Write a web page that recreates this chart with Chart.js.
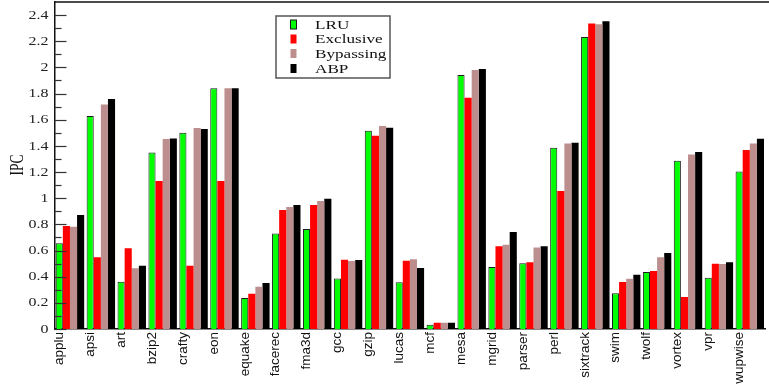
<!DOCTYPE html>
<html>
<head>
<meta charset="utf-8">
<script src="https://cdn.jsdelivr.net/npm/chart.js@4/dist/chart.umd.min.js"></script>
<style>
  html, body { margin: 0; padding: 0; background: #fff; overflow: hidden; }
  #wrap { width: 769px; height: 385px; }
</style>
</head>
<body>
<div id="wrap"><canvas id="ipc" width="769" height="385"></canvas></div>
<script>
// SPEC CPU2000 benchmarks
const benchmarks = ['applu', 'apsi', 'art', 'bzip2', 'crafty', 'eon', 'equake', 'facerec',
  'fma3d', 'gcc', 'gzip', 'lucas', 'mcf', 'mesa', 'mgrid', 'parser', 'perl', 'sixtrack',
  'swim', 'twolf', 'vortex', 'vpr', 'wupwise'];

// IPC per replacement policy
const lruIPC = [0.655, 1.628, 0.362, 1.35, 1.50, 1.84, 0.237, 0.731, 0.764, 0.387, 1.516, 0.357,
  0.033, 1.941, 0.474, 0.502, 1.386, 2.232, 0.273, 0.436, 1.287, 0.392, 1.205];
const exclusiveIPC = [0.787, 0.548, 0.617, 1.131, 0.484, 1.131, 0.27, 0.91, 0.948, 0.53, 1.478, 0.522,
  0.048, 1.768, 0.632, 0.51, 1.055, 2.336, 0.359, 0.443, 0.245, 0.499, 1.368];
const bypassingIPC = [0.782, 1.717, 0.464, 1.452, 1.536, 1.84, 0.323, 0.933, 0.978, 0.52, 1.552, 0.533,
  0.048, 1.98, 0.645, 0.624, 1.419, 2.33, 0.385, 0.548, 1.335, 0.497, 1.419];
const abpIPC = [0.871, 1.758, 0.484, 1.457, 1.529, 1.84, 0.352, 0.948, 0.996, 0.527, 1.539, 0.466,
  0.048, 1.987, 0.741, 0.632, 1.424, 2.352, 0.415, 0.581, 1.353, 0.51, 1.455];

// y axis: labelled ticks every 0.2, minor ticks every 0.1
const yMajorTicks = [0, 0.2, 0.4, 0.6, 0.8, 1, 1.2, 1.4, 1.6, 1.8, 2, 2.2, 2.4];
const yMinorTicks = [0.1, 0.3, 0.5, 0.7, 0.9, 1.1, 1.3, 1.5, 1.7, 1.9, 2.1, 2.3];
const yLabels = ['0', '0.2', '0.4', '0.6', '0.8', '1', '1.2', '1.4', '1.6', '1.8', '2', '2.2', '2.4'];

const SERIF = '"Liberation Serif", "Times New Roman", serif';
const STRETCH = 1.33;

// inward ticks, labels, axis title and frame top
const axisDecor = {
  id: 'axisDecor',
  afterDatasetsDraw(chart) {
    const { ctx, chartArea, scales } = chart;
    const y = scales.y;
    ctx.save();
    ctx.strokeStyle = '#333';
    ctx.lineWidth = 1.2;
    const tick = (v, len) => {
      const py = Math.round(y.getPixelForValue(v)) + 0.5;
      ctx.beginPath();
      ctx.moveTo(chartArea.left, py);
      ctx.lineTo(chartArea.left + len, py);
      ctx.stroke();
    };
    yMajorTicks.forEach(v => tick(v, 12));
    yMinorTicks.forEach(v => tick(v, 7));

    // frame top edge
    ctx.strokeStyle = '#111';
    ctx.lineWidth = 1.5;
    ctx.beginPath();
    ctx.moveTo(chartArea.left, chartArea.top);
    ctx.lineTo(chart.width, chartArea.top);
    ctx.stroke();

    // y tick labels
    ctx.fillStyle = '#222';
    ctx.font = '12px ' + SERIF;
    ctx.textAlign = 'right';
    ctx.textBaseline = 'middle';
    yMajorTicks.forEach((v, i) => {
      const py = y.getPixelForValue(v);
      ctx.save();
      ctx.translate(48.5, py + 0.5);
      ctx.scale(STRETCH, 1);
      ctx.fillText(yLabels[i], 0, 0);
      ctx.restore();
    });

    // y axis title
    ctx.save();
    ctx.translate(18.5, 165);
    ctx.scale(STRETCH, 1);
    ctx.rotate(-Math.PI / 2);
    ctx.font = '13.5px ' + SERIF;
    ctx.textAlign = 'center';
    ctx.textBaseline = 'middle';
    ctx.fillStyle = '#111';
    ctx.fillText('IPC', 0, 0);
    ctx.restore();
    ctx.restore();
  },
  afterDraw(chart) {
    // boxed legend inside the plot
    const { ctx } = chart;
    ctx.save();
    ctx.fillStyle = '#fff';
    ctx.fillRect(276, 16, 114, 62);
    ctx.strokeStyle = '#555';
    ctx.lineWidth = 1.5;
    ctx.strokeRect(276, 16, 114, 62);
    const rowY = [24.5, 39, 53.5, 68.5];
    chart.data.datasets.forEach((ds, i) => {
      const cy = rowY[i];
      ctx.fillStyle = ds.backgroundColor;
      ctx.fillRect(290.5, cy - 4.5, 6, 9);
      if (ds.borderWidth) {
        ctx.strokeStyle = ds.borderColor;
        ctx.lineWidth = 1;
        ctx.strokeRect(290.5, cy - 4.5, 6, 9);
      }
      ctx.save();
      ctx.translate(315, cy + 0.5);
      ctx.scale(1.27, 1);
      ctx.font = '13.5px ' + SERIF;
      ctx.fillStyle = '#111';
      ctx.textAlign = 'left';
      ctx.textBaseline = 'middle';
      ctx.fillText(ds.label, 0, 0);
      ctx.restore();
    });
    ctx.restore();
  }
};

new Chart(document.getElementById('ipc'), {
  type: 'bar',
  data: {
    labels: benchmarks,
    datasets: [
      { label: 'LRU', data: lruIPC, backgroundColor: '#00ff00', borderColor: '#1b1b1b', borderWidth: 1 },
      { label: 'Exclusive', data: exclusiveIPC, backgroundColor: '#ff0000', borderWidth: 0 },
      { label: 'Bypassing', data: bypassingIPC, backgroundColor: '#bc8e8e', borderWidth: 0 },
      { label: 'ABP', data: abpIPC, backgroundColor: '#000000', borderWidth: 0 }
    ]
  },
  options: {
    responsive: false,
    animation: false,
    devicePixelRatio: 1,
    layout: { padding: { top: 2, right: 0, bottom: 0, left: 0 } },
    datasets: { bar: { barPercentage: 1.0, categoryPercentage: 0.92 } },
    plugins: { legend: { display: false }, tooltip: { enabled: false } },
    scales: {
      x: {
        grid: { display: false, drawTicks: false },
        border: { display: true, color: '#111', width: 1.5 },
        ticks: {
          autoSkip: false,
          maxRotation: 90,
          minRotation: 90,
          padding: 3,
          labelOffset: -10.5,
          color: '#111',
          font: { family: '"Liberation Sans", Arial, sans-serif', size: 13.5 }
        },
        afterFit(scale) { scale.height = 56; }
      },
      y: {
        min: 0,
        max: 2.5,
        grid: { display: false, drawTicks: false },
        border: { display: true, color: '#111', width: 1.5 },
        ticks: { display: false, stepSize: 0.2 },
        afterFit(scale) { scale.width = 54.5; }
      }
    }
  },
  plugins: [axisDecor]
});
</script>
</body>
</html>
